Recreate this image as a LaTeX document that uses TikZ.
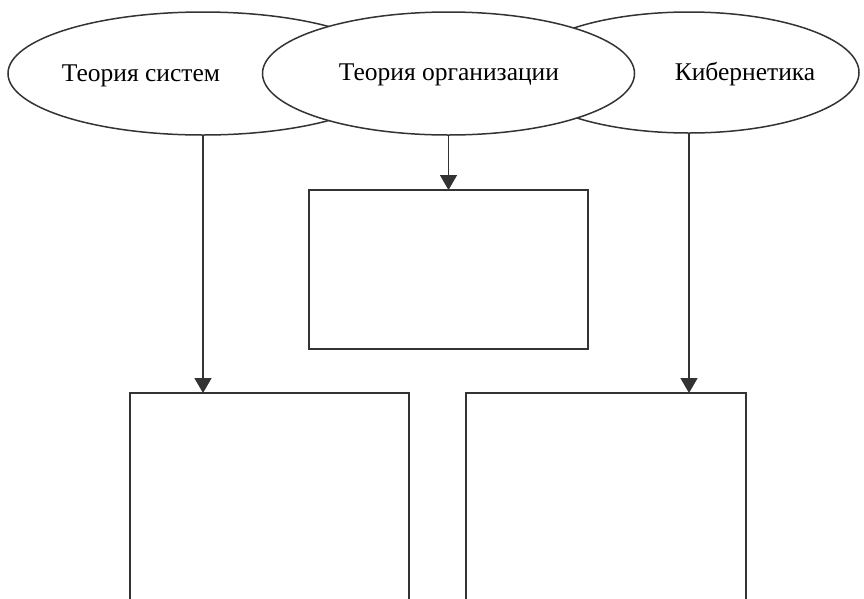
\documentclass[tikz,border=0pt]{standalone}
\usepackage{fontspec}
\setmainfont{Liberation Serif}
\usetikzlibrary{shapes.geometric, arrows.meta}

\tikzset{
  oval/.style={draw=black!80, ellipse, fill=white, inner sep=0pt, outer sep=0pt, line width=1.5pt},
  blank/.style={draw=black!80, rectangle, inner sep=0pt, outer sep=0pt, line width=1.6pt},
  caption/.style={font=\fontsize{25.5}{30}\selectfont, inner sep=0pt, anchor=base},
  feed/.style={draw=black!80, -{Triangle[width=17pt,length=15pt]}, line width=1.5pt},
}

\begin{document}
\begin{tikzpicture}[
    x=1pt,y=-1pt
    ]
    \useasboundingbox (0,0) rectangle (864,598);
    \clip (0,0) rectangle (864,598);
    \fill[white] (0,0) rectangle (864,598);
    % three sciences, the middle one drawn last on top
    \node[oval, minimum width=390pt, minimum height=123pt] (sys) at (203,73.5) {};
    \node[oval, minimum width=340pt, minimum height=121pt] (cyb) at (689,72.5) {};
    \node[oval, minimum width=372pt, minimum height=123pt] (org) at (448.5,73.5) {};
    \node[caption] (tsys) at (141,81) {Теория систем};
    \node[caption] (torg) at (449,80) {Теория организации};
    \node[caption] (tcyb) at (745,80) {Кибернетика};
    % empty boxes
    \node[blank, minimum width=279pt, minimum height=159pt] (mid) at (448.5,269.5) {};
    \node[blank, minimum width=279pt, minimum height=260pt] (left) at (269.5,523) {};
    \node[blank, minimum width=280pt, minimum height=260pt] (right) at (606,523) {};
    \draw[feed] (sys.south) -- (sys.south |- left.north);
    \draw[feed] (org.south) -- (mid.north);
    \draw[feed] (cyb.south) -- (cyb.south |- right.north);
  \end{tikzpicture}
\end{document}
